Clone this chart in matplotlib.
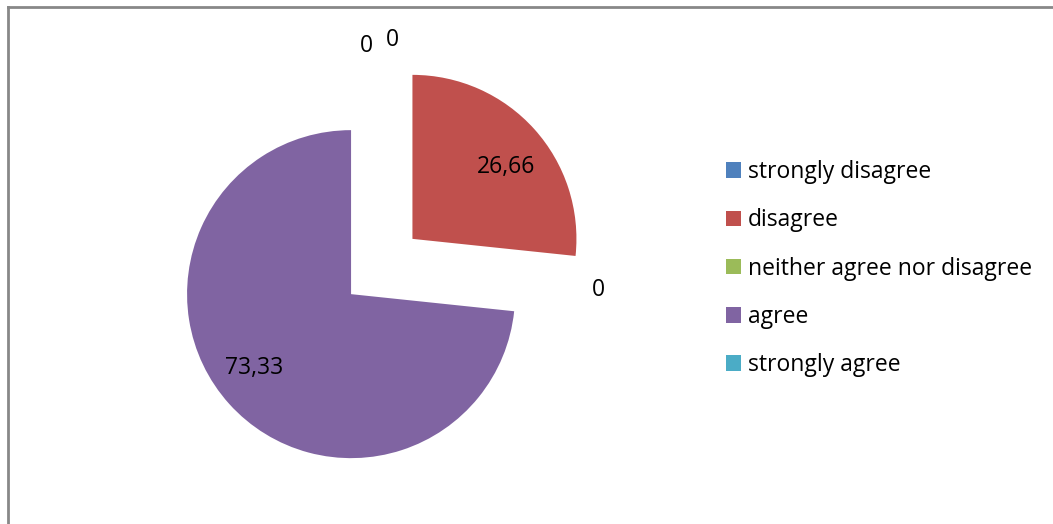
import matplotlib.pyplot as plt
from matplotlib.lines import Line2D

# Survey responses (percent)
categories = ["strongly disagree", "disagree", "neither agree nor disagree",
              "agree", "strongly agree"]
values = [0, 26.66, 0, 73.33, 0]
value_labels = ["0", "26,66", "0", "73,33", "0"]
colors = ["#4F81BD", "#C0504D", "#9BBB59", "#8064A2", "#4BACC6"]
exploded = [False, True, False, True, False]

W, H = 1053, 524
FS = 16.5
plt.rcParams['font.family'] = ['Open Sans', 'DejaVu Sans']

fig = plt.figure(figsize=(W / 100, H / 100), dpi=100)
ax = fig.add_axes([0, 0, 1, 1])

# pie in pixel units (axes spans the whole figure)
radius = 164
explode = [41.3 if e else 0 for e in exploded]
wedges, _ = ax.pie(values, colors=colors, explode=explode, startangle=90,
                   counterclock=False, center=(381.75, H - 266.5), radius=radius,
                   frame=True, wedgeprops=dict(linewidth=0))
ax.axis('off')
ax.set_xlim(0, W)
ax.set_ylim(0, H)

# data label positions (pixels, from top-left)
label_pos = [(366, 46), (506, 167), (598, 290), (254, 368), (392, 40)]
for (x, y), txt in zip(label_pos, value_labels):
    ax.text(x, H - y, txt, ha='center', va='center', fontsize=FS, color='black')

# chart border
fig.add_artist(Line2D([7.5 / W, 7.5 / W], [0, 1 - 6.5 / H], color='#888888',
                      linewidth=2, transform=fig.transFigure))
fig.add_artist(Line2D([7.5 / W, 1], [1 - 6.5 / H, 1 - 6.5 / H], color='#888888',
                      linewidth=2, transform=fig.transFigure))

leg = ax.legend(wedges, categories, loc='upper left',
                bbox_to_anchor=(726 / W, 1 - 160 / H), frameon=False,
                fontsize=FS, handlelength=0.655, handleheight=0.655,
                handletextpad=0.3, labelspacing=1.06, borderpad=0,
                borderaxespad=0)

fig.savefig("out.png", dpi=100)
